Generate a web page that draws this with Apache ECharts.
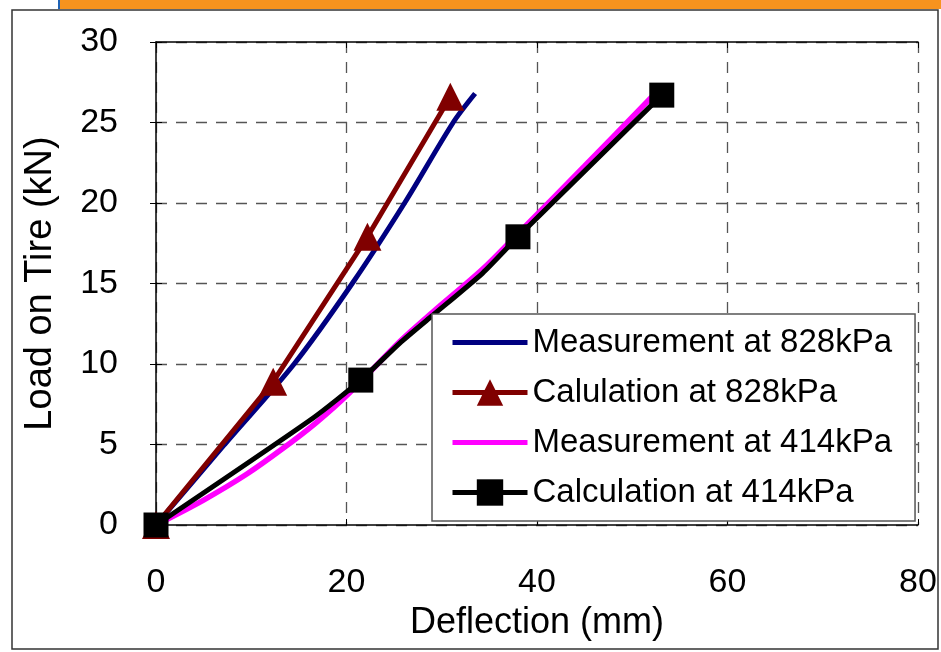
<!DOCTYPE html>
<html>
<head>
<meta charset="utf-8">
<script src="https://cdn.jsdelivr.net/npm/echarts@6/dist/echarts.min.js"></script>
<style>
html,body{margin:0;padding:0;background:#fff;}
#chart{width:941px;height:652px;}
</style>
</head>
<body>
<div id="chart"></div>
<script>
// ---- data ----
const xTickValues = [0, 20, 40, 60, 80];
const yTickValues = [0, 5, 10, 15, 20, 25, 30];
const seriesNames = ['Measurement at 828kPa', 'Calulation at 828kPa', 'Measurement at 414kPa', 'Calculation at 414kPa'];
const meas828 = [[0,0],[7.2,5],[14.5,10],[20.6,15],[26.1,20],[31.2,25],[33.5,26.8]];
const calc828 = [[0,0],[12.3,8.9],[22.2,17.9],[30.9,26.6]];
const meas414 = [[0,0],[5,1.55],[9.5,3.15],[13.2,4.7],[16.8,6.35],[20.3,8.2],[25.6,11.4],[29,13.2],[34.3,15.9],[38,18.1],[45,22.3],[52.4,26.8]];
const calc414 = [[0,0],[16.5,6.65],[21.5,9.0],[25.6,11.3],[28.9,12.95],[34.3,15.65],[38,17.9],[53.1,26.7]];
const calc414Marked = [true,false,true,false,false,false,true,true];

const FONT = '"Liberation Sans", Arial, sans-serif';
const chart = echarts.init(document.getElementById('chart'), null, {renderer: 'canvas'});

const gridLine = {show: true, lineStyle: {color: '#555', type: [11, 9], width: 1.3}};
const lineIcon = 'path://M0,0H75V5H0Z';

const option = {
  backgroundColor: '#fff',
  animation: false,
  textStyle: {fontFamily: FONT},
  graphic: [
    {type: 'rect', shape: {x: 60, y: 0, width: 881, height: 9}, style: {fill: '#F7931E'}, silent: true},
    {type: 'rect', shape: {x: 58, y: 0, width: 2, height: 9}, style: {fill: '#1F63B5'}, silent: true},
    {type: 'rect', shape: {x: 12, y: 10, width: 926, height: 639}, style: {fill: 'none', stroke: '#333', lineWidth: 1.5}, silent: true, z: 0}
  ],
  grid: {left: 156, top: 42, right: 23, bottom: 127, containLabel: false},
  xAxis: [
    {
      type: 'value', min: xTickValues[0], max: xTickValues[xTickValues.length - 1], interval: 20,
      position: 'bottom',
      name: 'Deflection (mm)', nameLocation: 'middle', nameGap: 78,
      nameTextStyle: {fontSize: 36, color: '#000', fontFamily: FONT},
      axisLine: {show: true, onZero: false, lineStyle: {color: '#000', width: 1.5}},
      axisTick: {show: true, inside: true, length: 6, lineStyle: {color: '#000', width: 1}},
      axisLabel: {fontSize: 34, color: '#000', margin: 41, fontFamily: FONT},
      splitLine: gridLine
    },
    {
      type: 'value', min: xTickValues[0], max: xTickValues[xTickValues.length - 1], interval: 20,
      position: 'top',
      axisLine: {show: true, onZero: false, lineStyle: {color: '#000', width: 1.5}},
      axisTick: {show: true, inside: true, length: 6, lineStyle: {color: '#000', width: 1}},
      axisLabel: {show: false},
      splitLine: {show: false}
    }
  ],
  yAxis: [
    {
      type: 'value', min: yTickValues[0], max: yTickValues[yTickValues.length - 1], interval: 5,
      position: 'left',
      name: 'Load on Tire (kN)', nameLocation: 'middle', nameGap: 96, nameRotate: 90,
      nameTextStyle: {fontSize: 38, color: '#000', fontFamily: FONT},
      axisLine: {show: true, onZero: false, lineStyle: {color: '#000', width: 1.5}},
      axisTick: {show: true, inside: true, length: 6, lineStyle: {color: '#000', width: 1}},
      axisLabel: {fontSize: 34, color: '#000', margin: 38, fontFamily: FONT},
      splitLine: gridLine
    },
    {
      type: 'value', min: yTickValues[0], max: yTickValues[yTickValues.length - 1], interval: 5,
      position: 'right',
      axisLine: {show: false},
      axisTick: {show: true, inside: true, length: 6, lineStyle: {color: '#000', width: 1}},
      axisLabel: {show: false},
      splitLine: {show: false}
    }
  ],
  legend: {
    orient: 'vertical',
    left: 432, top: 314,
    backgroundColor: '#fff',
    borderColor: '#555', borderWidth: 1.5, borderRadius: 0,
    padding: [12, 23, 12, 18],
    itemWidth: 75, itemHeight: 33, itemGap: 17,
    textStyle: {fontSize: 33, color: '#000', fontFamily: FONT},
    lineStyle: {width: 5},
    data: [
      {name: seriesNames[0], icon: lineIcon},
      {name: seriesNames[1]},
      {name: seriesNames[2], icon: lineIcon},
      {name: seriesNames[3]}
    ],
    z: 10
  },
  series: [
    {
      name: seriesNames[0], type: 'line', data: meas828, clip: false, smooth: 0.3,
      showSymbol: false, symbol: 'none',
      lineStyle: {color: '#000080', width: 5}, itemStyle: {color: '#000080'}, z: 2
    },
    {
      name: seriesNames[1], type: 'line', data: calc828, clip: false,
      symbol: 'triangle', symbolSize: 28,
      lineStyle: {color: '#800000', width: 5}, itemStyle: {color: '#800000'}, z: 3
    },
    {
      name: seriesNames[2], type: 'line', data: meas414, clip: false, smooth: 0.3,
      showSymbol: false, symbol: 'none',
      lineStyle: {color: '#FF00FF', width: 5.5}, itemStyle: {color: '#FF00FF'}, z: 4
    },
    {
      name: seriesNames[3], type: 'line', clip: false, smooth: 0.2,
      data: calc414.map((p, i) => calc414Marked[i] ? {value: p} : {value: p, symbol: 'none'}),
      symbol: 'rect', symbolSize: 25,
      lineStyle: {color: '#000', width: 5}, itemStyle: {color: '#000'}, z: 5
    }
  ]
};
chart.setOption(option);
</script>
</body>
</html>
